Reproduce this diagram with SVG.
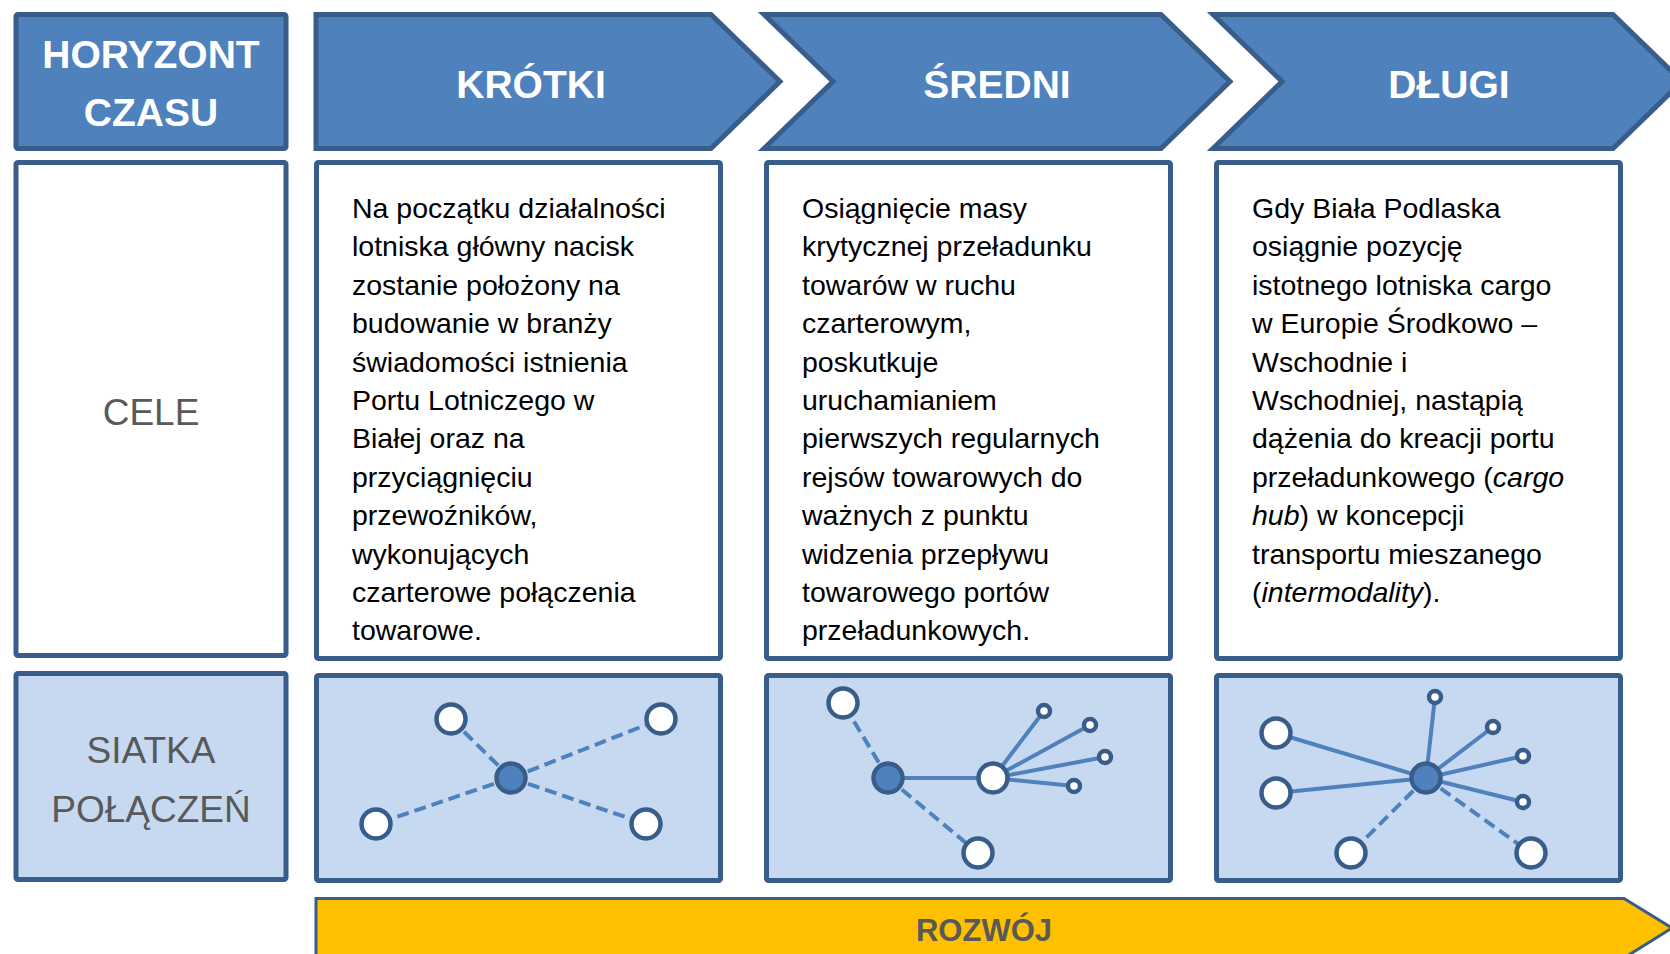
<svg xmlns="http://www.w3.org/2000/svg" width="1670" height="954" viewBox="0 0 1670 954">
<style>
.hdr{fill:#4f81bd;stroke:#385d8a;stroke-width:5;stroke-linejoin:miter}
.wbox{fill:#ffffff;stroke:#385d8a;stroke-width:5}
.lbox{fill:#c6d9f1;stroke:#385d8a;stroke-width:5}
.htxt{font-family:"Liberation Sans",Arial,sans-serif;font-weight:bold;font-size:39px;fill:#ffffff;text-anchor:middle}
.gtxt{font-family:"Liberation Sans",Arial,sans-serif;font-size:37px;fill:#595959;text-anchor:middle}
.body{font-family:"Liberation Sans",Arial,sans-serif;font-size:28.5px;fill:#000000}
.it{font-style:italic}
.ln{stroke:#4f81bd;stroke-width:4;fill:none}
.dash{stroke-dasharray:12 6}
.wn{fill:#ffffff;stroke:#385d8a;stroke-width:4.5}
.hub{fill:#4f81bd;stroke:#385d8a;stroke-width:4.5}
</style>

<!-- header row -->
<g id="horyzont">
<rect class="hdr" x="16" y="14.5" width="270" height="134" rx="2"/>
<text class="htxt" x="151" y="68">HORYZONT</text>
<text class="htxt" x="151" y="126">CZASU</text>
</g>
<g id="krotki">
<polygon class="hdr" points="316,14.5 711,14.5 780,81.5 711,148.5 316,148.5"/>
<text class="htxt" x="531" y="98">KRÓTKI</text>
</g>
<g id="sredni">
<polygon class="hdr" points="764,14.5 1161,14.5 1230,81.5 1161,148.5 764,148.5 833,81.5"/>
<text class="htxt" x="997" y="98">ŚREDNI</text>
</g>
<g id="dlugi">
<polygon class="hdr" points="1213,14.5 1613,14.5 1682,81.5 1613,148.5 1213,148.5 1282,81.5"/>
<text class="htxt" x="1449" y="98">DŁUGI</text>
</g>

<!-- CELE row -->
<g id="cele">
<rect class="wbox" x="16" y="162.5" width="270" height="493" rx="2"/>
<text class="gtxt" x="151" y="425">CELE</text>
</g>
<g id="cele-krotki">
<rect class="wbox" x="316.5" y="162.5" width="404" height="496" rx="2"/>
<text class="body">
<tspan x="352" y="218">Na początku działalności</tspan>
<tspan x="352" y="256.4">lotniska główny nacisk</tspan>
<tspan x="352" y="294.8">zostanie położony na</tspan>
<tspan x="352" y="333.2">budowanie w branży</tspan>
<tspan x="352" y="371.6">świadomości istnienia</tspan>
<tspan x="352" y="410">Portu Lotniczego w</tspan>
<tspan x="352" y="448.4">Białej oraz na</tspan>
<tspan x="352" y="486.8">przyciągnięciu</tspan>
<tspan x="352" y="525.2">przewoźników,</tspan>
<tspan x="352" y="563.6">wykonujących</tspan>
<tspan x="352" y="602">czarterowe połączenia</tspan>
<tspan x="352" y="640.4">towarowe.</tspan>
</text>
</g>
<g id="cele-sredni">
<rect class="wbox" x="766.5" y="162.5" width="404" height="496" rx="2"/>
<text class="body">
<tspan x="802" y="218">Osiągnięcie masy</tspan>
<tspan x="802" y="256.4">krytycznej przeładunku</tspan>
<tspan x="802" y="294.8">towarów w ruchu</tspan>
<tspan x="802" y="333.2">czarterowym,</tspan>
<tspan x="802" y="371.6">poskutkuje</tspan>
<tspan x="802" y="410">uruchamianiem</tspan>
<tspan x="802" y="448.4">pierwszych regularnych</tspan>
<tspan x="802" y="486.8">rejsów towarowych do</tspan>
<tspan x="802" y="525.2">ważnych z punktu</tspan>
<tspan x="802" y="563.6">widzenia przepływu</tspan>
<tspan x="802" y="602">towarowego portów</tspan>
<tspan x="802" y="640.4">przeładunkowych.</tspan>
</text>
</g>
<g id="cele-dlugi">
<rect class="wbox" x="1216.5" y="162.5" width="404" height="496" rx="2"/>
<text class="body">
<tspan x="1252" y="218">Gdy Biała Podlaska</tspan>
<tspan x="1252" y="256.4">osiągnie pozycję</tspan>
<tspan x="1252" y="294.8">istotnego lotniska cargo</tspan>
<tspan x="1252" y="333.2">w Europie Środkowo –</tspan>
<tspan x="1252" y="371.6">Wschodnie i</tspan>
<tspan x="1252" y="410">Wschodniej, nastąpią</tspan>
<tspan x="1252" y="448.4">dążenia do kreacji portu</tspan>
<tspan x="1252" y="486.8">przeładunkowego (<tspan class="it">cargo</tspan></tspan>
<tspan x="1252" y="525.2"><tspan class="it">hub</tspan>) w koncepcji</tspan>
<tspan x="1252" y="563.6">transportu mieszanego</tspan>
<tspan x="1252" y="602">(<tspan class="it">intermodality</tspan>).</tspan>
</text>
</g>

<!-- SIATKA row -->
<g id="siatka">
<rect class="lbox" x="16" y="673.5" width="270" height="206" rx="2"/>
<text class="gtxt" x="151" y="763">SIATKA</text>
<text class="gtxt" x="151" y="822">POŁĄCZEŃ</text>
</g>
<g id="siatka-krotki-box"><rect class="lbox" x="316.5" y="675.5" width="404" height="205" rx="2"/></g>
<g id="siatka-sredni-box"><rect class="lbox" x="766.5" y="675.5" width="404" height="205" rx="2"/></g>
<g id="siatka-dlugi-box"><rect class="lbox" x="1216.5" y="675.5" width="404" height="205" rx="2"/></g>

<!-- connectors -->
<g id="connectors">
<line class="ln dash" x1="511" y1="778" x2="451" y2="719"/>
<line class="ln dash" x1="511" y1="778" x2="661" y2="719"/>
<line class="ln dash" x1="511" y1="778" x2="376" y2="824"/>
<line class="ln dash" x1="511" y1="778" x2="646" y2="824"/>

<line class="ln dash" x1="888" y1="778" x2="843" y2="703"/>
<line class="ln dash" x1="888" y1="778" x2="978" y2="853"/>
<line class="ln" x1="888" y1="778" x2="993" y2="778"/>
<line class="ln" x1="993" y1="778" x2="1044" y2="711"/>
<line class="ln" x1="993" y1="778" x2="1090" y2="725"/>
<line class="ln" x1="993" y1="778" x2="1105" y2="757"/>
<line class="ln" x1="993" y1="778" x2="1074" y2="786"/>

<line class="ln" x1="1426" y1="778" x2="1276" y2="733"/>
<line class="ln" x1="1426" y1="778" x2="1276" y2="793"/>
<line class="ln" x1="1426" y1="778" x2="1435" y2="697"/>
<line class="ln" x1="1426" y1="778" x2="1493" y2="727"/>
<line class="ln" x1="1426" y1="778" x2="1523" y2="756"/>
<line class="ln" x1="1426" y1="778" x2="1523" y2="802"/>
<line class="ln dash" x1="1426" y1="778" x2="1351" y2="853"/>
<line class="ln dash" x1="1426" y1="778" x2="1531" y2="853"/>
</g>

<!-- network nodes -->
<g id="k-hub"><circle class="hub" cx="511" cy="778" r="14.5"/></g>
<g id="k-n1"><circle class="wn" cx="451" cy="719" r="14.5"/></g>
<g id="k-n2"><circle class="wn" cx="661" cy="719" r="14.5"/></g>
<g id="k-n3"><circle class="wn" cx="376" cy="824" r="14.5"/></g>
<g id="k-n4"><circle class="wn" cx="646" cy="824" r="14.5"/></g>

<g id="s-hub"><circle class="hub" cx="888" cy="778" r="14.5"/></g>
<g id="s-n1"><circle class="wn" cx="843" cy="703" r="14.5"/></g>
<g id="s-n2"><circle class="wn" cx="978" cy="853" r="14.5"/></g>
<g id="s-n3"><circle class="wn" cx="993" cy="778" r="14.5"/></g>
<g id="s-s1"><circle class="wn" cx="1044" cy="711" r="6"/></g>
<g id="s-s2"><circle class="wn" cx="1090" cy="725" r="6"/></g>
<g id="s-s3"><circle class="wn" cx="1105" cy="757" r="6"/></g>
<g id="s-s4"><circle class="wn" cx="1074" cy="786" r="6"/></g>

<g id="d-hub"><circle class="hub" cx="1426" cy="778" r="14.5"/></g>
<g id="d-n1"><circle class="wn" cx="1276" cy="733" r="14.5"/></g>
<g id="d-n2"><circle class="wn" cx="1276" cy="793" r="14.5"/></g>
<g id="d-n3"><circle class="wn" cx="1351" cy="853" r="14.5"/></g>
<g id="d-n4"><circle class="wn" cx="1531" cy="853" r="14.5"/></g>
<g id="d-s1"><circle class="wn" cx="1435" cy="697" r="6"/></g>
<g id="d-s2"><circle class="wn" cx="1493" cy="727" r="6"/></g>
<g id="d-s3"><circle class="wn" cx="1523" cy="756" r="6"/></g>
<g id="d-s4"><circle class="wn" cx="1523" cy="802" r="6"/></g>

<!-- development arrow -->
<g id="rozwoj">
<polygon points="316,898.5 1624,898.5 1672,928 1624,958 316,958" fill="#ffc000" stroke="#385d8a" stroke-width="3"/>
<text x="984" y="941" font-family="'Liberation Sans',Arial,sans-serif" font-weight="bold" font-size="31" fill="#595959" text-anchor="middle">ROZWÓJ</text>
</g>
</svg>
